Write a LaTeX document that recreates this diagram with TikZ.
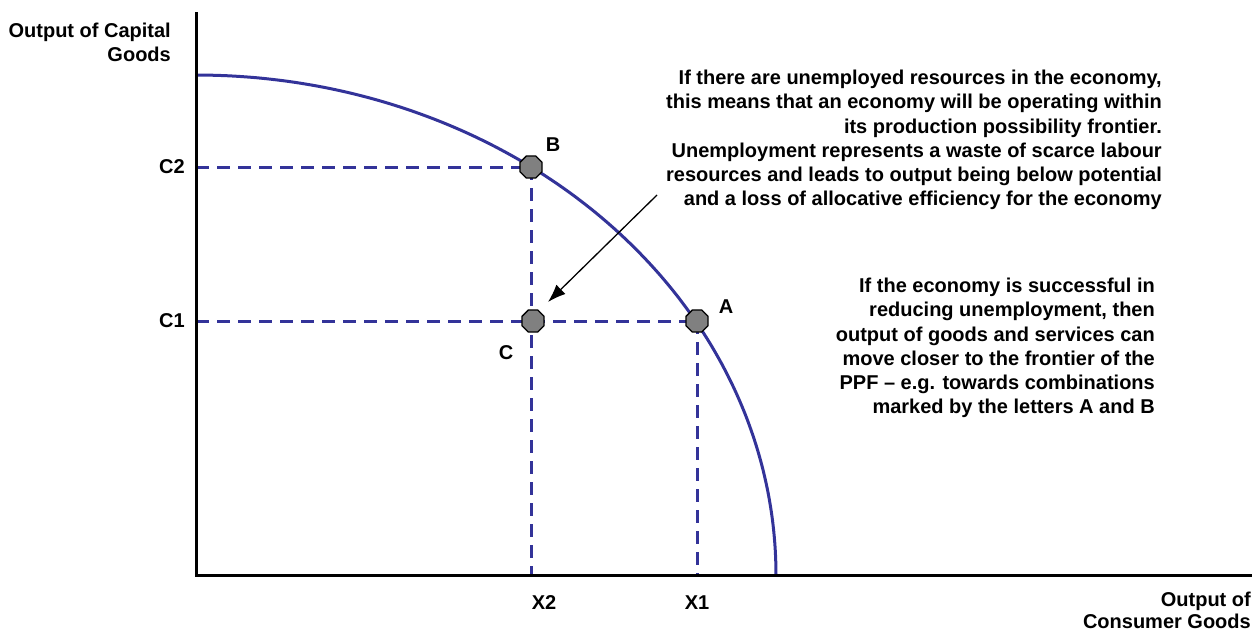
\documentclass[tikz,border=0pt]{standalone}
\usepackage{fontspec}
\setmainfont{Liberation Sans}
\usetikzlibrary{shapes.geometric,arrows.meta}
\definecolor{ppfblue}{HTML}{333399}
\definecolor{markgray}{HTML}{808080}
\begin{document}
\begin{tikzpicture}[x=1pt,y=-1pt,
  lbl/.style={font=\fontsize{20}{24.2}\selectfont\bfseries, inner sep=0pt},
  para/.style={lbl, align=right},
  guide/.style={draw=ppfblue, line width=3pt, dash pattern=on 13pt off 8pt},
  axis/.style={draw=black, line width=3pt},
  ppf/.style={draw=ppfblue, line width=3pt},
  pt/.style={regular polygon, regular polygon sides=8, minimum size=24pt, inner sep=0pt, fill=markgray, draw=black, line width=1.3pt},
  pointer/.style={draw=black, line width=1.3pt, -{Latex[length=18pt,width=13pt]}}]
\useasboundingbox (0,0) rectangle (1252,635);
% axes
\coordinate (O) at (196,575);
\coordinate (ytop) at (196,12);
\coordinate (xend) at (1252,575);
% guide end points
\coordinate (yC2) at (196,167);
\coordinate (yC1) at (196,321);
\coordinate (xX2) at (531,575);
\coordinate (xX1) at (697,575);
\coordinate (arrstart) at (657,195);
\coordinate (arrend) at (548,302);
% dashed guides
\draw[guide] (yC2) -- (531,167);
\draw[guide] (531,167) -- (xX2);
\draw[guide] (yC1) -- (697,321);
\draw[guide] (697,321) -- (xX1);
% PPF curve
\draw[ppf] plot[domain=0:90, samples=120] ({196+580*cos(\x)}, {575-500*sin(\x)});
% axes
\draw[axis] (ytop) -- (O) -- (xend);
% points
\node[pt] (B) at (531,167) {};
\node[pt] (C) at (533,321) {};
\node[pt] (A) at (697,321) {};
% arrow
\draw[pointer] (arrstart) -- (arrend);
% labels
\node[lbl] (lB) at (553,145) {B};
\node[lbl] (lA) at (726,307) {A};
\node[lbl] (lC) at (506,353) {C};
\node[lbl] (lC2) at (172,167) {C2};
\node[lbl] (lC1) at (172,321) {C1};
\node[lbl] (lX2) at (544,603) {X2};
\node[lbl] (lX1) at (697,603) {X1};
\node[para, anchor=north east] (ylab) at (171,23) {Output of Capital\\Goods};
\node[para, anchor=north east, font=\fontsize{20}{22}\selectfont\bfseries] (xlab) at (1251,592) {Output of\\Consumer Goods};
\node[para, anchor=north east] (t1) at (1162,70) {If there are unemployed resources in the economy,\\this means that an economy will be operating within\\its production possibility frontier.\\Unemployment represents a waste of scarce labour\\resources and leads to output being below potential\\and a loss of allocative efficiency for the economy};
\node[para, anchor=north east] (t2) at (1155,278) {If the economy is successful in\\reducing unemployment, then\\output of goods and services can\\move closer to the frontier of the\\PPF -- e.g. towards combinations\\marked by the letters A and B};
\end{tikzpicture}
\end{document}
